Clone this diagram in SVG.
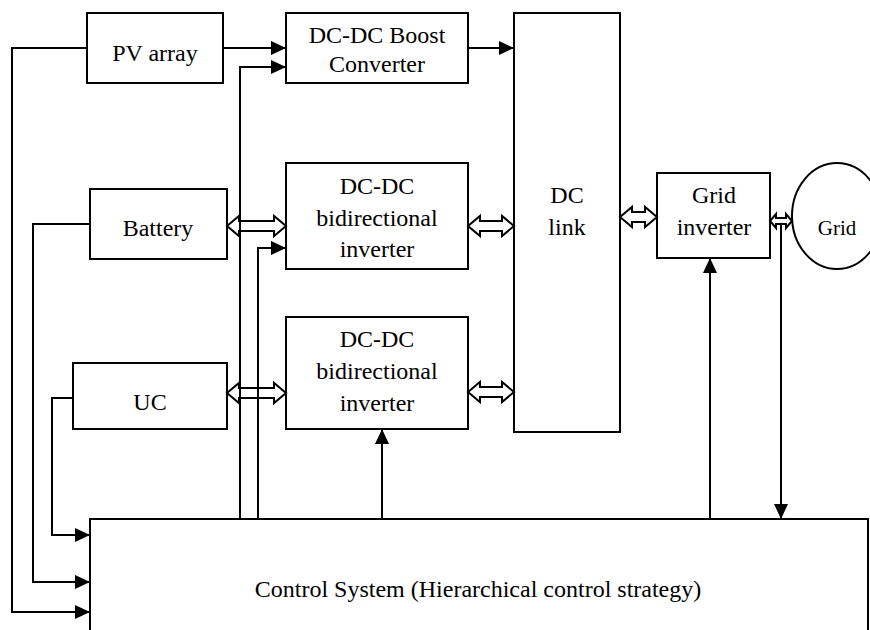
<svg xmlns="http://www.w3.org/2000/svg" width="870" height="630" viewBox="0 0 870 630">
<style>
.box{fill:#fff;stroke:#000;stroke-width:2}
.ln{fill:none;stroke:#000;stroke-width:2}
.da{fill:none;stroke:#000;stroke-width:2;stroke-linejoin:miter}
text{font-family:"Liberation Serif","Times New Roman",serif;font-size:24px;fill:#000;text-anchor:middle}
</style>
<defs>
<marker id="ah" markerUnits="userSpaceOnUse" markerWidth="15" markerHeight="14" refX="15" refY="7" orient="auto">
<path d="M0,0 L15,7 L0,14 z" fill="#000"/>
</marker>
</defs>
<rect width="870" height="630" fill="#fff"/>

<g id="pv"><rect class="box" x="87" y="13" width="136" height="70"/><text x="155" y="61">PV array</text></g>
<g id="boost"><rect class="box" x="286" y="13" width="182" height="70"/><text x="377" y="43">DC-DC Boost</text><text x="377" y="72">Converter</text></g>
<g id="dclink"><rect class="box" x="514" y="13" width="106" height="419"/><text x="567" y="203">DC</text><text x="567" y="235">link</text></g>
<g id="battery"><rect class="box" x="90" y="189" width="137" height="70"/><text x="158" y="236">Battery</text></g>
<g id="bidir1"><rect class="box" x="286" y="163" width="182" height="106"/><text x="377" y="194">DC-DC</text><text x="377" y="226">bidirectional</text><text x="377" y="257">inverter</text></g>
<g id="uc"><rect class="box" x="73" y="363" width="154" height="66"/><text x="150" y="410">UC</text></g>
<g id="bidir2"><rect class="box" x="286" y="317" width="182" height="112"/><text x="377" y="347">DC-DC</text><text x="377" y="379">bidirectional</text><text x="377" y="411">inverter</text></g>
<g id="gridinv"><rect class="box" x="657" y="173" width="113" height="85"/><text x="714" y="203">Grid</text><text x="714" y="235">inverter</text></g>
<g id="grid"><ellipse class="box" cx="837" cy="216" rx="45" ry="53"/><text x="837" y="235" style="font-size:21px">Grid</text></g>
<g id="control"><rect class="box" x="90" y="519" width="778" height="130"/><text x="478" y="597">Control System (Hierarchical control strategy)</text></g>

<g id="connectors">
<path class="ln" d="M223,48 H286" marker-end="url(#ah)"/>
<path class="ln" d="M468,48 H514" marker-end="url(#ah)"/>
<path class="ln" d="M240,519 V67 H286" marker-end="url(#ah)"/>
<path class="ln" d="M258,519 V248 H286" marker-end="url(#ah)"/>
<path class="ln" d="M382,519 V429" marker-end="url(#ah)"/>
<path class="ln" d="M710,519 V258" marker-end="url(#ah)"/>
<path class="ln" d="M781,224 V519" marker-end="url(#ah)"/>
<path class="ln" d="M87,48 H12 V612 H90" marker-end="url(#ah)"/>
<path class="ln" d="M90,224 H33 V582 H90" marker-end="url(#ah)"/>
<path class="ln" d="M73,398 H52 V535 H90" marker-end="url(#ah)"/>
<path class="da" d="M227,226 L239,216 L239,221 L274,221 L274,216 L286,226 L274,236 L274,231 L239,231 L239,236 Z"/>
<path class="da" d="M468,226 L480,216 L480,221 L502,221 L502,216 L514,226 L502,236 L502,231 L480,231 L480,236 Z"/>
<path class="da" d="M227,393 L239,383 L239,388 L274,388 L274,383 L286,393 L274,403 L274,398 L239,398 L239,403 Z"/>
<path class="da" d="M468,392 L480,382 L480,387 L502,387 L502,382 L514,392 L502,402 L502,397 L480,397 L480,402 Z"/>
<path class="da" d="M620,217 L632,207 L632,212 L645,212 L645,207 L657,217 L645,227 L645,222 L632,222 L632,227 Z"/>
<path class="da" d="M770,221 L776,214 L776,218 L786,218 L786,214 L792,221 L786,228 L786,224 L776,224 L776,228 Z"/>
</g>
</svg>
